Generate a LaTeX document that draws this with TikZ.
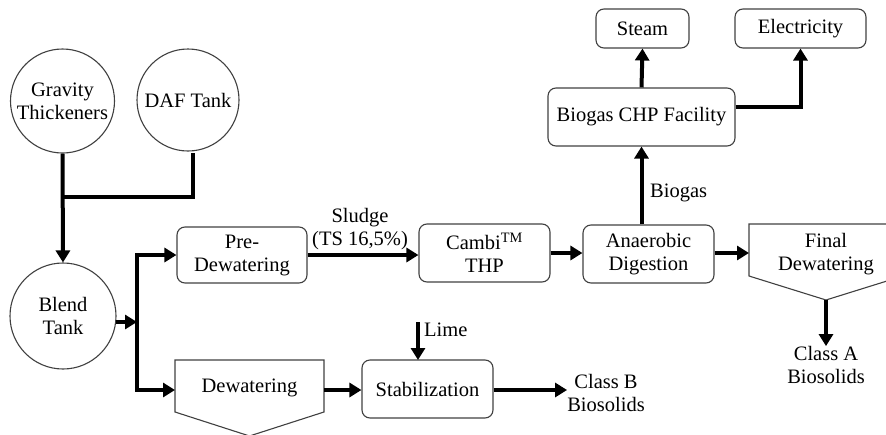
\documentclass[tikz,border=0pt]{standalone}
\usepackage{fontspec}
\setmainfont{Liberation Serif}
\newfontfamily\diagfont{Liberation Serif}
\usetikzlibrary{arrows.meta}
\begin{document}
\begin{tikzpicture}[x=1pt,y=-1pt,
  every node/.style={font=\diagfont\fontsize{20.5}{23}\selectfont, align=center, inner sep=0pt},
  tank/.style={draw=black!75, line width=1.1pt, circle},
  proc/.style={draw=black!75, line width=1.1pt, rounded corners=8pt, rectangle},
  pent/.style={draw=black!75, line width=1.1pt},
  flow/.style={line width=4pt, line join=miter},
  arr/.style={flow, -{Triangle[length=12pt,width=14pt]}}]
\useasboundingbox (0,0) rectangle (886,434);
% tanks
\node[tank, minimum size=104pt] (grav) at (62.5,101) {Gravity\\Thickeners};
\node[tank, minimum size=102pt] (daf) at (188,100) {DAF Tank};
\node[tank, minimum size=106pt] (blend) at (63,316) {Blend\\Tank};
% process boxes
\node[proc, minimum width=130pt, minimum height=56pt] (pre) at (242,255) {Pre-\\Dewatering};
\node[proc, minimum width=131pt, minimum height=58pt] (cambi) at (484.5,253) {Cambi\textsuperscript{TM}\\THP};
\node[proc, minimum width=131pt, minimum height=58pt] (anaer) at (648.5,254) {Anaerobic\\Digestion};
\node[proc, minimum width=187pt, minimum height=58pt] (chp) at (641.5,117) {Biogas CHP Facility};
\node[proc, minimum width=93pt, minimum height=39pt] (steam) at (642.5,28.5) {Steam};
\node[proc, minimum width=131pt, minimum height=39pt] (elec) at (800.5,28.5) {Electricity};
\node[proc, minimum width=131pt, minimum height=58pt] (stab) at (427.5,389) {Stabilization};
% pentagon shapes
\draw[pent] (175,360) -- (324,360) -- (324,412) -- (249.5,436) -- (175,412) -- cycle;
\node (dew) at (249.5,388) {Dewatering};
\draw[pent] (749,224) -- (903,224) -- (903,276) -- (826,300) -- (749,276) -- cycle;
\node (fdew) at (826,254) {Final\\Dewatering};
% texts
\node (classA) at (826,365) {Class A\\Biosolids};
\node (classB) at (606,393) {Class B\\Biosolids};
\node (sludge) at (360,229) {Sludge\\(TS 16,5\%)};
\node[anchor=west] (lime) at (424,330) {Lime};
\node[anchor=west] (biogas) at (650,193) {Biogas};
% coordinates
\coordinate (j1) at (62.5,197);
\coordinate (dafdown) at (193,153);
\coordinate (j2) at (137,322);
\coordinate (bl) at (116,322);
\coordinate (dewin) at (175,390);
\coordinate (dewout) at (324,390);
\coordinate (fdewin) at (749,253);
\coordinate (fdewtip) at (826,300);
\coordinate (limetop) at (418,322);
\coordinate (limeend) at (418,360);
% connectors
\draw[flow] (dafdown) |- (j1);
\draw[arr] (grav.south) -- (blend.north);
\draw[arr] (bl) -- (j2);
\draw[arr] (j2) |- (pre.west);
\draw[arr] (j2) |- (dewin);
\draw[arr] (pre.east) -- (cambi.west |- pre.east);
\draw[arr] (cambi.east) -- (anaer.west |- cambi.east);
\draw[arr] (anaer.east |- fdewin) -- (fdewin);
\draw[arr] (fdewtip) -- (classA.north);
\draw[arr] (dewout) -- (stab.west |- dewout);
\draw[arr] (limetop) -- (limeend);
\draw[arr] (stab.east |- dewout) -- (classB.west |- dewout);
\draw[arr] (anaer.north -| chp.south) -- (chp.south);
\draw[arr] (chp.north) -- (steam.south);
\draw[arr] ([yshift=10pt]chp.east) -| (elec.south);
\end{tikzpicture}
\end{document}
